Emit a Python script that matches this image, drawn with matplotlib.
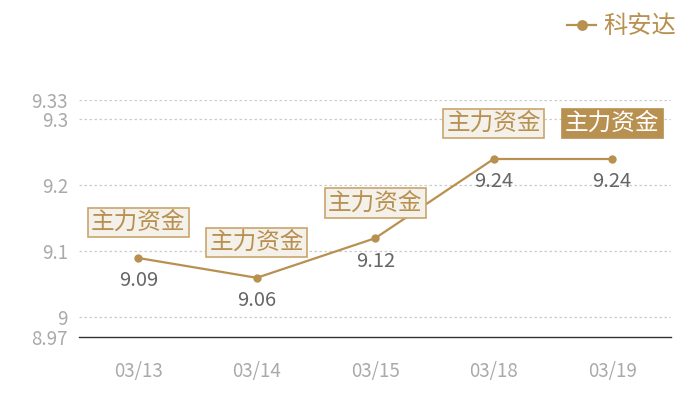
import matplotlib
matplotlib.use("Agg")
import matplotlib.pyplot as plt

plt.rcParams["font.family"] = ["Noto Sans CJK SC", "DejaVu Sans"]

dates = ["03/13", "03/14", "03/15", "03/18", "03/19"]
prices = [9.09, 9.06, 9.12, 9.24, 9.24]
tag_text = "主力资金"
series_name = "科安达"
y_ticks = [8.97, 9, 9.1, 9.2, 9.3, 9.33]
y_tick_labels = ["8.97", "9", "9.1", "9.2", "9.3", "9.33"]

GOLD = "#b8904f"
BOX_EDGE = "#c9a56c"
BOX_FILL = "#f4f0ea"

fig = plt.figure(figsize=(7, 4), dpi=100)
ax = fig.add_axes([0.113, 0.157, 0.846, 0.594])

x = list(range(len(dates)))
ax.plot(x, prices, color=GOLD, linewidth=1.6, marker="o", markersize=6,
        markeredgewidth=0, label=series_name, zorder=3)

ax.set_xlim(-0.5, len(dates) - 0.5)
ax.set_ylim(y_ticks[0], y_ticks[-1])
ax.set_yticks(y_ticks)
ax.set_yticklabels(y_tick_labels)
ax.set_xticks(x)
ax.set_xticklabels(dates)
ax.tick_params(axis="both", length=0, labelsize=13.5, labelcolor="#aaaaaa")
ax.tick_params(axis="x", pad=17)
ax.tick_params(axis="y", pad=8)

for v in y_ticks[1:]:
    ax.axhline(v, color="#cccccc", linewidth=0.9, linestyle=(0, (2, 2)), zorder=1)

for side in ["top", "right", "left"]:
    ax.spines[side].set_visible(False)
ax.spines["bottom"].set_color("#333333")
ax.spines["bottom"].set_linewidth(1.0)

for i, (xi, yi) in enumerate(zip(x, prices)):
    ax.annotate(f"{yi:.2f}", (xi, yi), xytext=(0, -16.5), textcoords="offset points",
                ha="center", va="center", fontsize=14.5, color="#666666", zorder=4)
    last = i == len(x) - 1
    ax.annotate(tag_text, (xi, yi), xytext=(0, 25.5), textcoords="offset points",
                ha="center", va="center", fontsize=17,
                color="white" if last else GOLD,
                bbox=dict(boxstyle="square,pad=0.14",
                          facecolor=GOLD if last else BOX_FILL,
                          edgecolor=GOLD if last else BOX_EDGE, linewidth=1.2),
                zorder=5)

fig.legend(loc="upper right", bbox_to_anchor=(0.985, 1.0), frameon=False,
           fontsize=17.5, labelcolor=GOLD, handlelength=1.2, handletextpad=0.3,
           borderaxespad=0.15, markerscale=1.3)

fig.savefig("out.png", dpi=100)
